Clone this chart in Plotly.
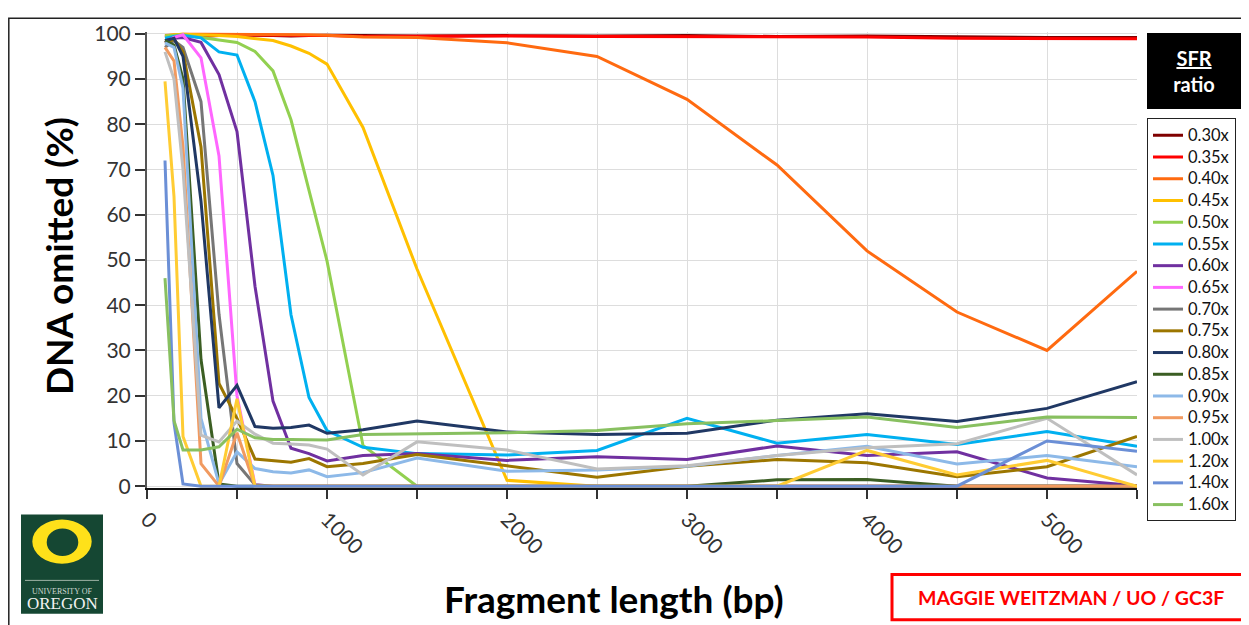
import plotly.graph_objects as go

# ---------------- data ----------------
fragment_bp = [100, 150, 200, 300, 400, 500, 600, 700, 800, 900, 1000,
               1200, 1500, 2000, 2500, 3000, 3500, 4000, 4500, 5000, 5500]

ratio_labels = ["0.30x", "0.35x", "0.40x", "0.45x", "0.50x", "0.55x", "0.60x",
                "0.65x", "0.70x", "0.75x", "0.80x", "0.85x", "0.90x", "0.95x",
                "1.00x", "1.20x", "1.40x", "1.60x"]

r030 = [99.2, 99.5, 99.6, 99.4, 99.6, 99.7, 99.7, 99.6, 99.5, 99.6, 99.7, 99.6, 99.5, 99.6, 99.5, 99.6, 99.4, 99.5, 99.3, 99.2, 99.2]
r035 = [99.4, 99.7, 99.8, 99.8, 99.7, 99.8, 99.8, 99.7, 99.7, 99.6, 99.6, 99.4, 99.5, 99.5, 99.4, 99.4, 99.3, 99.3, 99.0, 99.0, 98.9]
r040 = [99.6, 99.8, 99.9, 99.9, 99.9, 99.9, 99.9, 99.9, 99.9, 99.8, 99.7, 99.3, 99.2, 98.0, 95.0, 85.5, 71.0, 52.0, 38.5, 30.0, 47.5]
r045 = [99.5, 99.8, 99.9, 99.8, 99.6, 99.4, 99.0, 98.5, 97.3, 95.7, 93.3, 79.3, 48.0, 1.3, 0, 0, 0, 0, 0, 0, 0]
r050 = [99.5, 99.7, 99.8, 99.2, 98.6, 98.1, 96.1, 91.8, 81.0, 65.5, 49.8, 9.0, 0, 0, 0, 0, 0, 0, 0, 0, 0]
r055 = [99.0, 99.4, 99.6, 99.1, 96.0, 95.3, 85.0, 68.7, 37.9, 19.6, 12.3, 8.6, 7.2, 6.9, 7.9, 15.0, 9.5, 11.4, 9.2, 12.1, 8.8]
r060 = [98.5, 99.0, 99.2, 98.1, 91.0, 78.4, 44.2, 18.8, 8.4, 7.2, 5.6, 6.8, 7.2, 5.7, 6.5, 5.9, 8.9, 6.8, 7.6, 1.8, 0.1]
r065 = [98.0, 99.2, 99.8, 94.7, 73.0, 20.0, 0.3, 0, 0, 0, 0, 0, 0, 0, 0, 0, 0, 0, 0, 0, 0]
r070 = [97.0, 98.5, 97.0, 85.0, 38.0, 5.0, 0.3, 0, 0, 0, 0, 0, 0, 0, 0, 0, 0, 0, 0, 0, 0]
r075 = [98.0, 98.8, 96.0, 75.0, 22.7, 15.0, 6.0, 5.6, 5.3, 6.1, 4.3, 5.0, 7.0, 4.5, 2.0, 4.4, 5.9, 5.2, 2.1, 4.3, 11.0]
r080 = [98.5, 99.0, 95.0, 63.0, 17.3, 22.3, 13.2, 12.8, 13.0, 13.5, 11.7, 12.5, 14.4, 12.0, 11.4, 11.7, 14.6, 16.0, 14.3, 17.2, 23.1]
r085 = [98.5, 97.5, 90.0, 28.0, 0.5, 0, 0, 0, 0, 0, 0, 0, 0, 0, 0, 0, 1.4, 1.5, 0, 0, 0]
r090 = [98.0, 97.0, 88.0, 15.0, 0.5, 7.6, 3.9, 3.2, 2.9, 3.6, 2.1, 3.0, 6.2, 3.3, 3.6, 4.4, 6.8, 8.8, 4.9, 6.8, 4.3]
r095 = [97.0, 94.0, 75.0, 5.0, 0, 11.8, 0, 0, 0, 0, 0, 0, 0, 0, 0, 0, 0, 0, 0, 0, 0]
r100 = [96.0, 90.0, 70.0, 11.3, 9.8, 14.4, 11.5, 9.5, 9.3, 9.1, 8.2, 2.5, 9.8, 8.0, 3.8, 4.5, 6.8, 8.5, 9.4, 15.0, 2.5]
r120 = [89.5, 64.0, 11.0, 0, 0, 19.3, 0, 0, 0, 0, 0, 0, 0, 0, 0, 0, 0, 7.9, 2.5, 5.7, 0]
r140 = [72.0, 14.0, 0.5, 0, 0, 0, 0, 0, 0, 0, 0, 0, 0, 0, 0, 0, 0, 0, 0, 10.0, 7.7]
r160 = [46.0, 14.5, 8.0, 8.0, 8.7, 12.6, 10.7, 10.3, 10.3, 10.3, 10.2, 11.4, 11.5, 11.8, 12.3, 13.8, 14.5, 15.3, 13.0, 15.3, 15.2]

series_values = [r030, r035, r040, r045, r050, r055, r060, r065, r070, r075,
                 r080, r085, r090, r095, r100, r120, r140, r160]

series_colors = ["#7F0000", "#FF0000", "#FF6A10", "#FFC000", "#92D050", "#00B0F0",
                 "#7030A0", "#FF66FF", "#767676", "#9C7600", "#203864", "#3B5E23",
                 "#8DB9E8", "#F19A60", "#BFBFBF", "#FFCC33", "#6B8FD6", "#88C060"]

x_tick_vals = [0, 500, 1000, 1500, 2000, 2500, 3000, 3500, 4000, 4500, 5000, 5500]
x_tick_text = ["0", "", "1000", "", "2000", "", "3000", "", "4000", "", "5000", ""]
y_tick_vals = [0, 10, 20, 30, 40, 50, 60, 70, 80, 90, 100]

# ---------------- layout geometry ----------------
# the page body has an 8px margin, so the figure starts at page (8, 8)
OFF = 8
W, H = 1249 - OFF, 625 - OFF
L, R, T, B = 139, 112, 16, 137
PW, PH = W - L - R, H - T - B


def px(page_x):
    return (page_x - OFF - L) / PW


def py(page_y):
    return (H - B - (page_y - OFF)) / PH


FONT = "Lato"

fig = go.Figure()
for name, vals, col in zip(ratio_labels, series_values, series_colors):
    fig.add_trace(go.Scatter(x=fragment_bp, y=vals, mode="lines",
                             name="<span style='font-size:16.5px'>" + name + "</span>",
                             line=dict(color=col, width=3)))

fig.update_layout(
    width=W, height=H,
    margin=dict(l=L, r=R, t=T, b=B, pad=0),
    paper_bgcolor="white", plot_bgcolor="white",
    font=dict(family=FONT, color="#333333"),
    showlegend=True,
    legend=dict(x=px(1147), y=py(112), xanchor="left", yanchor="top",
                bordercolor="#222222", borderwidth=1, bgcolor="white",
                font=dict(size=14.4, color="#111111", family=FONT),
                itemwidth=30, tracegroupgap=0),
    xaxis=dict(range=[0, 5500], tickvals=x_tick_vals, ticktext=x_tick_text,
               tickangle=45, tickfont=dict(size=21, color="#333333"),
               showgrid=True, gridcolor="#DDDDDD", gridwidth=1,
               showline=True, linecolor="#111111", linewidth=2,
               ticks="outside", ticklen=9, tickwidth=1.5, tickcolor="#333333",
               zeroline=False),
    yaxis=dict(range=[-0.4, 100.4], tickvals=y_tick_vals,
               tickfont=dict(size=21, color="#333333"),
               showgrid=True, gridcolor="#DDDDDD", gridwidth=1,
               showline=True, linecolor="#555555", linewidth=2,
               ticks="outside", ticklen=10, tickwidth=1.5, tickcolor="#333333",
               zeroline=False),
)

shapes = [
    # outer frame
    dict(type="rect", xref="paper", yref="paper", x0=px(8.8), y0=py(10), x1=px(1400), y1=py(800),
         line=dict(color="#222222", width=1.5), fillcolor="rgba(0,0,0,0)", layer="below"),
    # Oregon logo
    dict(type="rect", xref="paper", yref="paper", x0=px(21), x1=px(103), y0=py(616), y1=py(515),
         line=dict(width=0), fillcolor="#154733"),
    dict(type="circle", xref="paper", yref="paper", x0=px(32.3), x1=px(91.7), y0=py(565), y1=py(520),
         line=dict(width=0), fillcolor="#FEE11A"),
    dict(type="circle", xref="paper", yref="paper", x0=px(46.7), x1=px(78.3), y0=py(557.3), y1=py(529.3),
         line=dict(width=0), fillcolor="#154733"),
    dict(type="line", xref="paper", yref="paper", x0=px(25), x1=px(99), y0=py(582), y1=py(582),
         line=dict(width=1, color="#9FB3A6")),
    # credit box
    dict(type="rect", xref="paper", yref="paper", x0=px(892), x1=px(1260), y0=py(622), y1=py(576),
         line=dict(color="#FF0000", width=3), fillcolor="rgba(0,0,0,0)"),
]
fig.update_layout(shapes=shapes)

annotations = [
    dict(text="DNA omitted (%)", x=px(58), y=py(252), xref="paper", yref="paper",
         textangle=-90, showarrow=False, xanchor="center", yanchor="middle",
         font=dict(size=37, color="#000000", family=FONT, weight="bold")),
    dict(text="Fragment length (bp)", x=px(614), y=py(600), xref="paper", yref="paper",
         showarrow=False, xanchor="center", yanchor="middle",
         font=dict(size=37, color="#000000", family=FONT, weight="bold")),
    dict(text="<u>SFR</u><br>ratio", x=px(1147), y=py(25), xref="paper", yref="paper",
         showarrow=False, xanchor="left", yanchor="top", width=94, height=76,
         bgcolor="#000000", borderpad=0, borderwidth=0, align="center",
         font=dict(size=20, color="#FFFFFF", family=FONT, weight="bold")),
    dict(text="UNIVERSITY OF", x=px(62), y=py(593), xref="paper", yref="paper",
         showarrow=False, xanchor="center", yanchor="middle",
         font=dict(size=8, color="#D0D8D2", family="Liberation Serif")),
    dict(text="OREGON", x=px(62), y=py(606), xref="paper", yref="paper",
         showarrow=False, xanchor="center", yanchor="middle",
         font=dict(size=17, color="#F2F2F2", family="Liberation Serif")),
    dict(text="MAGGIE WEITZMAN / UO / GC3F", x=px(1071), y=py(599), xref="paper", yref="paper",
         showarrow=False, xanchor="center", yanchor="middle",
         font=dict(size=19.5, color="#FF0000", family=FONT, weight="bold")),
]
fig.update_layout(annotations=annotations)

fig.write_html("out.html")
